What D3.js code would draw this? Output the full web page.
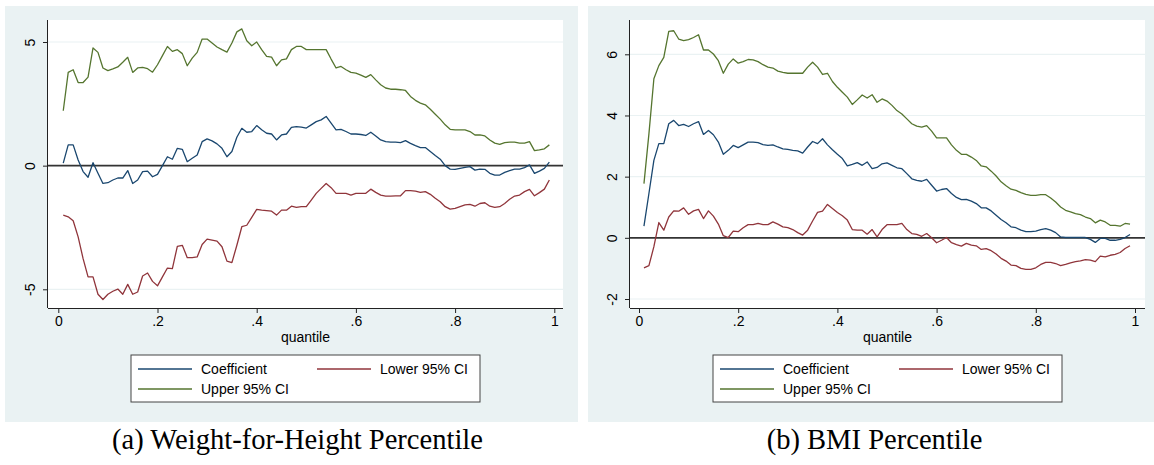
<!DOCTYPE html>
<html>
<head>
<meta charset="utf-8">
<script src="https://cdn.jsdelivr.net/npm/d3@7"></script>
<style>
html,body{margin:0;padding:0;background:#fff;}
svg{display:block;}
</style>
</head>
<body>
<svg id="chart" width="1154" height="465"></svg>
<script>
// ---------- DATA ----------
const quantiles = d3.range(1, 100).map(i => i / 100);

const seriesNames = ["Coefficient", "Lower 95% CI", "Upper 95% CI"];
const seriesColors = ["#1a476f", "#90353b", "#55752f"];

const xTickValues = [0, 0.2, 0.4, 0.6, 0.8, 1];
const xTickLabels = ["0", ".2", ".4", ".6", ".8", "1"];

const whYTicks = [-5, 0, 5];
const whYTickLabels = ["-5", "0", "5"];
const bmiYTicks = [-2, 0, 2, 4, 6];
const bmiYTickLabels = ["-2", "0", "2", "4", "6"];

const whCoef = [0.10,0.84,0.84,0.23,-0.24,-0.47,0.12,-0.31,-0.72,-0.69,
-0.58,-0.50,-0.50,-0.20,-0.72,-0.58,-0.24,-0.22,-0.45,-0.35,
0.00,0.36,0.26,0.70,0.66,0.16,0.30,0.43,0.97,1.08,
1.00,0.88,0.70,0.36,0.57,1.15,1.51,1.35,1.38,1.62,
1.45,1.31,1.28,1.04,1.24,1.28,1.55,1.58,1.56,1.52,
1.65,1.78,1.85,1.99,1.72,1.45,1.47,1.38,1.28,1.28,
1.26,1.22,1.35,1.20,1.04,0.97,0.95,0.95,0.93,1.01,
0.90,0.81,0.73,0.73,0.57,0.41,0.26,0.00,-0.14,-0.15,
-0.11,-0.07,-0.04,-0.18,-0.14,-0.15,-0.31,-0.38,-0.38,-0.27,
-0.20,-0.14,-0.14,-0.08,0.03,-0.31,-0.22,-0.11,0.14];

const whLower = [-2.00,-2.07,-2.23,-2.88,-3.76,-4.50,-4.50,-5.20,-5.41,-5.20,
-5.08,-4.99,-5.20,-4.80,-5.20,-5.11,-4.46,-4.34,-4.68,-4.86,
-4.50,-4.14,-4.16,-3.26,-3.22,-3.72,-3.72,-3.69,-3.19,-2.97,
-3.01,-3.05,-3.28,-3.86,-3.92,-3.22,-2.47,-2.41,-2.09,-1.77,
-1.80,-1.82,-1.84,-2.00,-1.80,-1.80,-1.64,-1.69,-1.66,-1.66,
-1.39,-1.12,-0.92,-0.72,-0.89,-1.12,-1.12,-1.12,-1.19,-1.12,
-1.12,-1.12,-0.95,-1.08,-1.19,-1.23,-1.23,-1.22,-1.22,-1.01,
-1.01,-1.03,-1.08,-1.05,-1.16,-1.32,-1.46,-1.66,-1.76,-1.73,
-1.66,-1.59,-1.57,-1.64,-1.53,-1.50,-1.64,-1.69,-1.66,-1.53,
-1.36,-1.23,-1.19,-1.05,-0.96,-1.22,-1.09,-0.95,-0.58];

const whUpper = [2.22,3.77,3.88,3.36,3.36,3.58,4.76,4.58,3.95,3.84,
3.91,3.99,4.18,4.38,3.77,3.95,3.97,3.92,3.78,4.08,
4.45,4.82,4.62,4.69,4.53,4.04,4.35,4.58,5.12,5.12,
4.96,4.80,4.69,4.59,4.96,5.41,5.53,5.05,4.85,5.00,
4.69,4.42,4.39,4.04,4.28,4.32,4.69,4.82,4.82,4.69,
4.69,4.69,4.69,4.69,4.31,3.95,4.01,3.88,3.77,3.74,
3.66,3.57,3.68,3.47,3.27,3.14,3.09,3.09,3.07,3.04,
2.80,2.64,2.53,2.46,2.28,2.08,1.88,1.65,1.47,1.45,
1.45,1.45,1.38,1.24,1.24,1.20,1.04,0.91,0.86,0.93,
0.95,0.95,0.91,0.91,0.97,0.61,0.64,0.68,0.84];

const bmiCoef = [0.38,1.45,2.53,3.08,3.08,3.73,3.84,3.67,3.71,3.64,
3.73,3.80,3.38,3.51,3.37,3.13,2.73,2.86,3.02,2.95,
3.04,3.13,3.13,3.11,3.05,3.02,3.04,2.97,2.91,2.89,
2.86,2.84,2.77,2.97,3.15,3.08,3.24,3.04,2.88,2.73,
2.59,2.35,2.40,2.46,2.37,2.48,2.26,2.30,2.42,2.45,
2.37,2.29,2.26,2.10,1.93,1.88,1.85,1.91,1.72,1.53,
1.58,1.61,1.45,1.32,1.25,1.26,1.20,1.12,0.98,0.98,
0.88,0.74,0.60,0.49,0.36,0.33,0.25,0.20,0.20,0.22,
0.27,0.30,0.25,0.17,0.03,0.01,0.01,0.01,0.01,0.01,
-0.05,-0.15,-0.02,-0.02,-0.08,-0.08,-0.05,0.01,0.11];

const bmiLower = [-0.98,-0.91,-0.29,0.50,0.25,0.68,0.88,0.87,0.98,0.77,
0.88,0.93,0.63,0.88,0.71,0.45,0.07,0.01,0.22,0.20,
0.33,0.43,0.43,0.47,0.43,0.43,0.52,0.45,0.36,0.33,
0.27,0.17,0.09,0.25,0.55,0.83,0.87,1.09,0.96,0.83,
0.72,0.58,0.27,0.25,0.25,0.12,0.27,0.03,0.27,0.43,
0.43,0.43,0.47,0.27,0.14,0.11,0.05,0.14,0.00,-0.16,
-0.08,0.01,-0.16,-0.22,-0.27,-0.18,-0.24,-0.26,-0.38,-0.35,
-0.42,-0.53,-0.67,-0.76,-0.89,-0.91,-1.00,-1.03,-1.03,-0.98,
-0.87,-0.80,-0.80,-0.84,-0.91,-0.87,-0.82,-0.78,-0.75,-0.71,
-0.73,-0.78,-0.60,-0.62,-0.57,-0.54,-0.48,-0.35,-0.26];

const bmiUpper = [1.77,3.40,5.20,5.63,5.90,6.75,6.77,6.50,6.45,6.48,
6.55,6.64,6.14,6.14,6.01,5.79,5.38,5.68,5.85,5.71,
5.76,5.83,5.82,5.76,5.66,5.58,5.55,5.45,5.41,5.38,
5.38,5.38,5.38,5.58,5.74,5.58,5.34,5.38,5.11,4.92,
4.76,4.60,4.36,4.51,4.67,4.57,4.68,4.43,4.54,4.47,
4.33,4.16,4.05,3.89,3.73,3.65,3.62,3.67,3.49,3.27,
3.27,3.27,3.04,2.86,2.73,2.73,2.64,2.53,2.35,2.32,
2.18,2.02,1.83,1.70,1.59,1.55,1.48,1.42,1.39,1.39,
1.41,1.41,1.30,1.17,1.01,0.90,0.85,0.79,0.76,0.68,
0.63,0.49,0.58,0.52,0.41,0.41,0.38,0.47,0.45];

const xAxisTitle = "quantile";
const captions = ["(a) Weight-for-Height Percentile", "(b) BMI Percentile"];

// ---------- LAYOUT ----------
const svg = d3.select("#chart");
const SANS = "'Liberation Sans', Arial, Helvetica, sans-serif";
const BG = "#eaf2f3";

const panels = [
  { ox: 5, plotL: 48, plotR: 563, x0: 58.3, x1: 554.3,
    yDomain: [-5, 5], yRange: [289.3, 42.0],
    yTicks: whYTicks, yLabels: whYTickLabels,
    series: [whCoef, whLower, whUpper], caption: captions[0], capX: 297.5 },
  { ox: 588, plotL: 630, plotR: 1145, x0: 639, x1: 1135,
    yDomain: [-2, 6], yRange: [299.0, 54.3],
    yTicks: bmiYTicks, yLabels: bmiYTickLabels,
    series: [bmiCoef, bmiLower, bmiUpper], caption: captions[1], capX: 874.5 }
];

const plotTop = 20, plotBottom = 308;

panels.forEach(p => {
  const g = svg.append("g");
  g.append("rect").attr("x", p.ox).attr("y", 6).attr("width", 573).attr("height", 416)
    .attr("fill", BG);
  g.append("rect").attr("x", p.plotL).attr("y", plotTop)
    .attr("width", p.plotR - p.plotL).attr("height", plotBottom - plotTop).attr("fill", "#fff");

  const x = d3.scaleLinear().domain([0, 1]).range([p.x0, p.x1]);
  const y = d3.scaleLinear().domain(p.yDomain).range(p.yRange);

  g.append("g").selectAll("line").data(p.yTicks.filter(t => t !== 0)).join("line")
    .attr("x1", p.plotL).attr("x2", p.plotR)
    .attr("y1", d => y(d)).attr("y2", d => y(d))
    .attr("stroke", BG).attr("stroke-width", 1.2);

  g.append("line").attr("x1", p.plotL).attr("x2", p.plotR)
    .attr("y1", y(0)).attr("y2", y(0))
    .attr("stroke", "#333").attr("stroke-width", 1.8);

  const line = d3.line().x((d, i) => x(quantiles[i])).y(d => y(d));
  p.series.forEach((s, k) => {
    g.append("path").datum(s).attr("d", line)
      .attr("fill", "none").attr("stroke", seriesColors[k])
      .attr("stroke-width", 1.3).attr("stroke-linejoin", "round");
  });

  const xAxis = d3.axisBottom(x).tickValues(xTickValues)
    .tickFormat((d, i) => xTickLabels[i]).tickSize(5).tickPadding(3);
  const gx = g.append("g").attr("transform", `translate(0,${plotBottom})`).call(xAxis);
  gx.select(".domain").attr("d", `M${p.plotL},0.5H${p.plotR}`).attr("stroke", "#222");
  gx.selectAll(".tick line").attr("stroke", "#222");
  gx.selectAll(".tick text").attr("font-family", SANS).attr("font-size", 14)
    .attr("fill", "#000").attr("y", 8).attr("dy", "0.71em");

  const yAxis = d3.axisLeft(y).tickValues(p.yTicks)
    .tickFormat((d, i) => p.yLabels[i]).tickSize(5);
  const gy = g.append("g").attr("transform", `translate(${p.plotL},0)`).call(yAxis);
  gy.select(".domain").attr("d", `M-0.5,${plotTop}V${plotBottom}`).attr("stroke", "#222");
  gy.selectAll(".tick line").attr("stroke", "#222");
  gy.selectAll(".tick text").attr("font-family", SANS).attr("font-size", 14)
    .attr("fill", "#000").attr("x", 0).attr("y", 0).attr("dy", null)
    .attr("text-anchor", "middle").attr("transform", "translate(-13,0) rotate(-90)");

  const cx = (p.plotL + p.plotR) / 2;
  g.append("text").attr("x", cx).attr("y", 342).attr("text-anchor", "middle")
    .attr("font-family", SANS).attr("font-size", 14).text(xAxisTitle);

  const lx = cx - 174.5, ly = 355;
  const lg = g.append("g");
  lg.append("rect").attr("x", lx).attr("y", ly).attr("width", 349).attr("height", 47)
    .attr("fill", "#fff").attr("stroke", "#444").attr("stroke-width", 1);
  const legendPos = [[0, 14], [179, 14], [0, 34]];
  seriesNames.forEach((name, k) => {
    const [dx, dy] = legendPos[k];
    lg.append("line").attr("x1", lx + 7 + dx).attr("x2", lx + 61 + dx)
      .attr("y1", ly + dy).attr("y2", ly + dy)
      .attr("stroke", seriesColors[k]).attr("stroke-width", 1.3);
    lg.append("text").attr("x", lx + 70 + dx).attr("y", ly + dy + 5)
      .attr("font-family", SANS).attr("font-size", 14).text(name);
  });

  const cap = svg.append("text").attr("x", p.capX).attr("y", 449)
    .attr("text-anchor", "middle")
    .attr("font-family", "'Liberation Serif', 'DejaVu Serif', serif")
    .attr("font-size", 22).attr("fill", "#000").text(p.caption);
  p.capNode = cap;
});

const w0 = panels[0].capNode.node().getComputedTextLength();
const fs = 22 * 371 / w0;
panels.forEach(p => p.capNode.attr("font-size", fs.toFixed(2)));
</script>
</body>
</html>
